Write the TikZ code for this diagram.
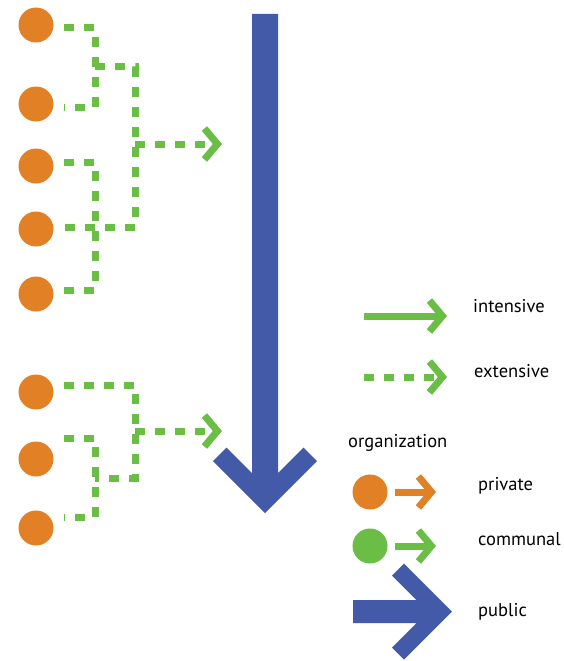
\documentclass[tikz,border=0pt]{standalone}
\usepackage{fontspec}
\setmainfont{PT Sans}
\usetikzlibrary{arrows.meta}

\definecolor{dotorange}{RGB}{226,128,38}
\definecolor{flowgreen}{RGB}{106,189,69}
\definecolor{pubblue}{RGB}{66,90,167}

\begin{document}
\begin{tikzpicture}[x=1pt, y=-1pt,
	dot/.style={circle, fill=#1, inner sep=0pt, minimum size=35pt},
	ext/.style={flowgreen, line width=7pt, dash pattern=on 10pt off 10pt},
	int/.style={flowgreen, line width=7pt},
	barb/.style={-{Straight Barb[length=13pt, width=31pt]}},
	lab/.style={anchor=base west, inner sep=0pt, font=\fontsize{18.5}{22}\selectfont}]

\useasboundingbox (0,0) rectangle (563,661);

	\node [dot=dotorange] (P1) at (36,25) {};
	\node [dot=dotorange] (P2) at (36,104) {};
	\node [dot=dotorange] (P3) at (36,166) {};
	\node [dot=dotorange] (P4) at (36,229) {};
	\node [dot=dotorange] (P5) at (36,294) {};

	\node [dot=dotorange] (Q1) at (36,392) {};
	\node [dot=dotorange] (Q2) at (36,459) {};
	\node [dot=dotorange] (Q3) at (36,528) {};

% first group
	\coordinate (A1) at (95,28);
	\coordinate (A2) at (95,107);
	\coordinate (A3) at (95,67);
	\coordinate (A4) at (135,67);
	\coordinate (A5) at (135,227);
	\coordinate (A6) at (135,144);
	\coordinate (D1) at (95,162);
	\coordinate (D2) at (95,290);
	\coordinate (R1) at (222,144);

	\draw [ext, shorten <=10pt, shorten >=10pt] (P1.east |- A1) -- (A1) -- (A2) -- (P2.east |- A2);
	\draw [ext, shorten <=10pt, shorten >=10pt] (P3.east |- D1) -- (D1) -- (D2) -- (P5.east |- D2);
	\draw [ext, shorten >=10pt] (A3) -- (A4) -- (A5) -- (P4.east |- A5);
	\draw [ext, barb] (A6) -- (R1);

% second group
	\coordinate (B1) at (135,385);
	\coordinate (B2) at (135,478);
	\coordinate (B3) at (95,478);
	\coordinate (B4) at (135,431);
	\coordinate (C1) at (95,438);
	\coordinate (C2) at (95,517);
	\coordinate (R2) at (222,431);

	\draw [ext, shorten <=10pt] (Q1.east |- B1) -- (B1) -- (B2) -- (B3);
	\draw [ext, shorten <=10pt, shorten >=10pt] (Q2.east |- C1) -- (C1) -- (C2) -- (Q3.east |- C2);
	\draw [ext, barb] (B4) -- (R2);

% public flow
	\fill [pubblue] (252,14) -- (252,473) -- (226.5,447.5) -- (213,461) -- (265,513)
		-- (317,461) -- (303.5,447.5) -- (278,473) -- (278,14) -- cycle;

% legend
	\coordinate (I0) at (364,316);
	\coordinate (I1) at (447,316);
	\coordinate (E0) at (364,377);
	\coordinate (E1) at (447,377);
	\draw [int, barb] (I0) -- (I1);
	\draw [ext, barb] (E0) -- (E1);
	\node [lab] (intensive) at (473,312) {intensive};
	\node [lab] (extensive) at (474,377) {extensive};

	\node [lab] (organization) at (348,447) {organization};

	\node [dot=dotorange] (L1) at (370,492) {};
	\coordinate (L1e) at (436,492);
	\draw [dotorange, line width=7pt, barb] (L1) ++(25,0) -- (L1e);
	\node [lab] (private) at (478,490) {private};

	\node [dot=flowgreen] (L2) at (370,546) {};
	\coordinate (L2e) at (436,546);
	\draw [int, barb] (L2) ++(25,0) -- (L2e);
	\node [lab] (communal) at (478,545) {communal};

	\fill [pubblue] (353,600) -- (416.5,600) -- (392,575.5) -- (404,563.5) -- (452,611.5)
		-- (404,659.5) -- (392,647.5) -- (416.5,623) -- (353,623) -- cycle;
	\node [lab] (public) at (478,616) {public};

\end{tikzpicture}
\end{document}
